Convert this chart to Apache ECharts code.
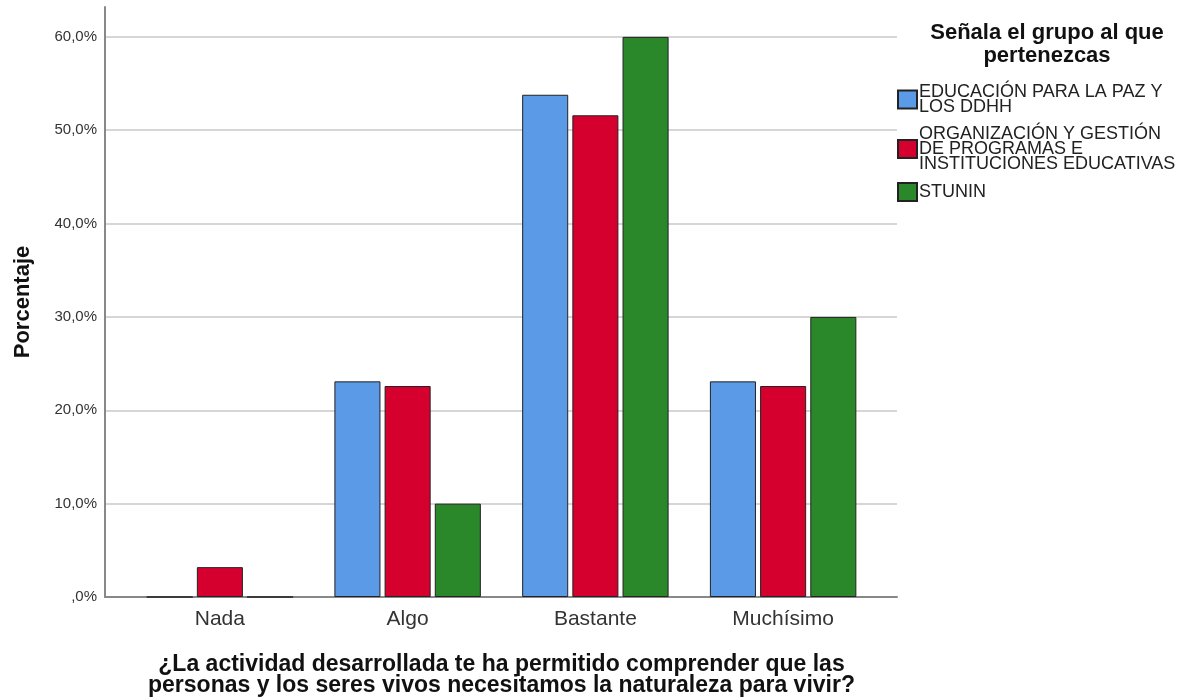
<!DOCTYPE html>
<html>
<head>
<meta charset="utf-8">
<script src="https://cdn.jsdelivr.net/npm/echarts@6/dist/echarts.min.js"></script>
<style>html,body{margin:0;padding:0;background:#fff;}#c{width:1184px;height:700px;}</style>
</head>
<body>
<div id="c"></div>
<script>
const categories = ['Nada', 'Algo', 'Bastante', 'Muchísimo'];
const seriesNames = ['EDUCACIÓN PARA LA PAZ Y\nLOS DDHH', 'ORGANIZACIÓN Y GESTIÓN\nDE PROGRAMAS E\nINSTITUCIONES EDUCATIVAS', 'STUNIN'];
const educacionPaz = [0, 23.1, 53.8, 23.1];
const organizacion = [3.2, 22.6, 51.6, 22.6];
const stunin = [0, 10.0, 60.0, 30.0];
const colors = ['#5b9ae6', '#d6002f', '#2a872a'];
const legendTitle = 'Señala el grupo al que\npertenezcas';
const yTitle = 'Porcentaje';
const xTitle = '¿La actividad desarrollada te ha permitido comprender que las\npersonas y los seres vivos necesitamos la naturaleza para vivir?';

const font = 'Liberation Sans, Arial, sans-serif';
const Y_MAX = 63.2;
const chart = echarts.init(document.getElementById('c'));
const dataSets = [educacionPaz, organizacion, stunin];
chart.setOption({
  animation: false,
  backgroundColor: '#fff',
  title: {
    text: legendTitle,
    left: 1042, top: 16, textAlign: 'center',
    textStyle: { fontFamily: font, fontSize: 22, fontWeight: 'bold', color: '#111', lineHeight: 23 }
  },
  legend: {
    orient: 'vertical', left: 892, top: 78,
    itemWidth: 19, itemHeight: 18, itemGap: 9,
    icon: 'rect',
    textStyle: { fontFamily: font, fontSize: 18, color: '#222', lineHeight: 15, padding: [0,0,0,-3] },
    data: seriesNames
  },
  grid: [
    { left: 105, right: 287, top: 7, bottom: 103, outerBoundsMode: 'none', containLabel: false },
    { left: 126, right: 307, top: 7, bottom: 103, outerBoundsMode: 'none', containLabel: false }
  ],
  xAxis: [
    {
      gridIndex: 0, type: 'value', min: 0, max: 1,
      axisLine: { show: true, lineStyle: { color: '#888', width: 2 } },
      axisTick: { show: false }, axisLabel: { show: false }, splitLine: { show: false }
    },
    {
      gridIndex: 1, type: 'category', data: categories,
      axisLine: { show: false },
      axisTick: { show: false },
      axisLabel: { fontFamily: font, fontSize: 21, color: '#333', margin: 12 },
      name: xTitle, nameLocation: 'middle', nameGap: 57,
      nameTextStyle: { fontFamily: font, fontSize: 23, fontWeight: 'bold', color: '#111', lineHeight: 21 }
    }
  ],
  yAxis: [
    {
      gridIndex: 0, type: 'value', min: 0, max: Y_MAX, interval: 10,
      axisLine: { show: true, lineStyle: { color: '#888', width: 2 } },
      axisTick: { show: false },
      splitLine: { showMaxLine: false, lineStyle: { color: '#c8c8c8', width: 1.5 } },
      axisLabel: {
        fontFamily: font, fontSize: 15, color: '#333', margin: 8, showMaxLabel: false,
        formatter: v => (v % 10 !== 0) ? '' : (v === 0 ? ',0%' : v.toFixed(1).replace('.', ',') + '%')
      },
      name: yTitle, nameLocation: 'middle', nameGap: 71,
      nameTextStyle: { fontFamily: font, fontSize: 22, fontWeight: 'bold', color: '#111' }
    },
    {
      gridIndex: 1, type: 'value', min: 0, max: Y_MAX, interval: 10, show: false,
      splitLine: { show: false }
    }
  ],
  series: dataSets.map((d, i) => ({
    name: seriesNames[i], type: 'bar', data: d,
    xAxisIndex: 1, yAxisIndex: 1,
    barCategoryGap: '22%', barGap: '9%',
    itemStyle: { color: colors[i], borderColor: '#222', borderWidth: 1 }
  }))
});
</script>
</body>
</html>
